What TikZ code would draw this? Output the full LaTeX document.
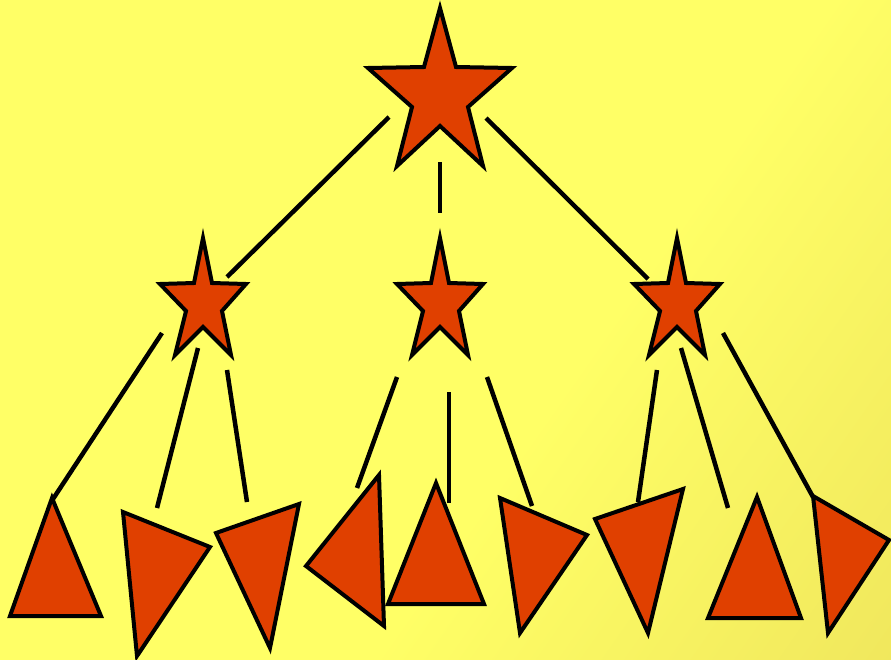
\documentclass[tikz,border=0pt]{standalone}
\definecolor{bgY}{RGB}{255,255,102}
\definecolor{bgD}{RGB}{232,218,88}
\definecolor{fillO}{RGB}{224,64,0}
\pgfdeclarehorizontalshading{bgshade}{100bp}{color(0bp)=(bgY); color(58bp)=(bgY); color(100bp)=(bgD)}
\tikzset{
  shapeobj/.style={fill=fillO, draw=black, line width=4pt, line join=miter, miter limit=6},
  link/.style={draw=black, line width=4.5pt},
}
\begin{document}
\begin{tikzpicture}[x=1pt,y=-1pt]
\useasboundingbox (0,0) rectangle (891,659);
\shade[shading=bgshade, shading angle=-35] (0,0) rectangle (891,659);

% connector end points
\coordinate (t1) at (389,117); \coordinate (l0) at (227,277);
\coordinate (t2) at (440,162); \coordinate (m0) at (440,213);
\coordinate (t3) at (486,118); \coordinate (r0) at (648,279);

\coordinate (l1) at (162,333); \coordinate (a1) at (53,499);
\coordinate (l2) at (198,348); \coordinate (a2) at (157,508);
\coordinate (l3) at (227,370); \coordinate (a3) at (247,502);

\coordinate (m1) at (397,377); \coordinate (b1) at (357,488);
\coordinate (m2) at (449,392); \coordinate (b2) at (449,503);
\coordinate (m3) at (487,377); \coordinate (b3) at (532,506);

\coordinate (r1) at (657,370); \coordinate (c1) at (638,502);
\coordinate (r2) at (681,348); \coordinate (c2) at (728,508);
\coordinate (r3) at (723,333); \coordinate (c3) at (813,497);

\foreach \p/\q in {t1/l0,t2/m0,t3/r0,l1/a1,l2/a2,l3/a3,m1/b1,m2/b2,m3/b3,r1/c1,r2/c2,r3/c3}
  \draw[link] (\p) -- (\q);

% top star
\draw[shapeobj] (440,8) -- (456,67) -- (512,68) -- (468,107) -- (483,166)
  -- (440,126) -- (397,166) -- (412,107) -- (368,68) -- (424,67) -- cycle;

% middle stars
\foreach \cx in {203,440,677}
  \draw[shapeobj, shift={(\cx,0)}] (0,238) -- (9,283) -- (43,284) -- (19,311) -- (28,355)
    -- (0,327) -- (-28,355) -- (-17,311) -- (-43,284) -- (-9,283) -- cycle;

% triangles
\draw[shapeobj] (52,498) -- (101,616) -- (10,616) -- cycle;
\draw[shapeobj] (123,512) -- (210,547) -- (137,656) -- cycle;
\draw[shapeobj] (299,504) -- (216,533) -- (270,648) -- cycle;
\draw[shapeobj] (379,475) -- (306,566) -- (384,626) -- cycle;
\draw[shapeobj] (436,483) -- (484,604) -- (388,604) -- cycle;
\draw[shapeobj] (500,498) -- (587,535) -- (520,633) -- cycle;
\draw[shapeobj] (683,489) -- (595,519) -- (648,633) -- cycle;
\draw[shapeobj] (757,497) -- (801,618) -- (708,618) -- cycle;
\draw[shapeobj] (813,496) -- (889,540) -- (828,633) -- cycle;
\end{tikzpicture}
\end{document}
